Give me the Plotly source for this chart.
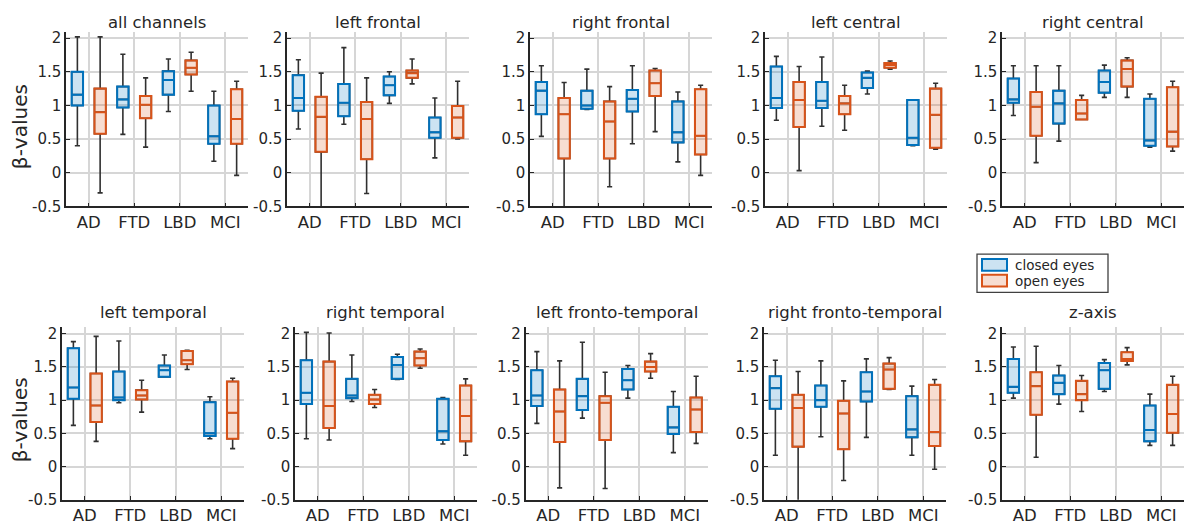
import plotly.graph_objects as go

panels = ["all channels", "left frontal", "right frontal", "left central", "right central",
          "left temporal", "right temporal", "left fronto-temporal", "right fronto-temporal", "z-axis"]
groups = ["AD", "FTD", "LBD", "MCI"]
series_names = ["closed eyes", "open eyes"]
ytick_vals = [-0.5, 0, 0.5, 1, 1.5, 2]
ytick_text = ["-0.5", "0", "0.5", "1", "1.5", "2"]

# closed eyes statistics (per panel: AD, FTD, LBD, MCI)
closed_lo = [[0.40, 0.57, 0.91, 0.17], [0.65, 0.72, 1.03, 0.22], [0.54, 0.94, 0.43, 0.16],
             [0.78, 0.69, 1.17, 0.40], [0.85, 0.47, 1.12, 0.38], [0.62, 0.96, 1.35, 0.42],
             [0.42, 0.98, 1.31, 0.34], [0.65, 0.73, 1.03, 0.21], [0.17, 0.45, 0.44, 0.17],
             [1.03, 0.94, 1.13, 0.32]]
closed_q1 = [[1.00, 0.97, 1.16, 0.43], [0.92, 0.84, 1.15, 0.52], [0.87, 0.95, 0.91, 0.45],
             [0.96, 0.96, 1.26, 0.41], [1.04, 0.73, 1.19, 0.40], [1.02, 1.00, 1.35, 0.46],
             [0.94, 1.03, 1.32, 0.40], [0.91, 0.85, 1.16, 0.49], [0.87, 0.90, 0.98, 0.44],
             [1.11, 1.09, 1.17, 0.38]]
closed_med = [[1.16, 1.09, 1.38, 0.54], [1.11, 1.04, 1.30, 0.60], [1.22, 1.00, 1.10, 0.60],
              [1.11, 1.07, 1.41, 0.52], [1.09, 1.03, 1.35, 0.48], [1.19, 1.04, 1.45, 0.50],
              [1.11, 1.07, 1.53, 0.53], [1.07, 1.06, 1.30, 0.59], [1.18, 1.00, 1.13, 0.56],
              [1.20, 1.26, 1.45, 0.55]]
closed_q3 = [[1.50, 1.28, 1.51, 1.00], [1.45, 1.32, 1.43, 0.82], [1.35, 1.22, 1.23, 1.06],
             [1.58, 1.35, 1.49, 1.08], [1.40, 1.22, 1.52, 1.10], [1.78, 1.43, 1.52, 0.97],
             [1.60, 1.32, 1.65, 1.02], [1.45, 1.32, 1.47, 0.90], [1.36, 1.22, 1.42, 1.06],
             [1.62, 1.37, 1.56, 0.92]]
closed_hi = [[2.02, 1.76, 1.69, 1.21], [1.68, 1.86, 1.50, 1.11], [1.59, 1.54, 1.59, 1.20],
             [1.73, 1.72, 1.51, 1.08], [1.59, 1.59, 1.60, 1.17], [1.88, 1.89, 1.68, 1.05],
             [2.02, 1.68, 1.69, 1.04], [1.73, 1.87, 1.52, 1.13], [1.60, 1.59, 1.62, 1.21],
             [1.80, 1.52, 1.61, 1.09]]

# open eyes statistics
open_lo = [[-0.30, 0.38, 1.21, -0.04], [-0.60, -0.31, 1.32, 0.50], [-0.60, -0.21, 0.61, -0.04],
           [0.03, 0.63, 1.54, 0.35], [0.15, 0.79, 1.12, 0.32], [0.38, 0.82, 1.46, 0.27],
           [0.40, 0.89, 1.48, 0.17], [-0.32, -0.33, 1.33, 0.35], [-0.60, -0.21, 1.16, -0.04],
           [0.14, 0.83, 1.53, 0.32]]
open_q1 = [[0.58, 0.81, 1.46, 0.43], [0.31, 0.20, 1.41, 0.52], [0.21, 0.21, 1.14, 0.27],
           [0.68, 0.87, 1.56, 0.37], [0.55, 0.79, 1.28, 0.39], [0.67, 1.01, 1.54, 0.42],
           [0.58, 0.94, 1.52, 0.38], [0.37, 0.40, 1.43, 0.52], [0.30, 0.26, 1.17, 0.31],
           [0.78, 1.00, 1.59, 0.51]]
open_med = [[0.90, 1.01, 1.56, 0.80], [0.83, 0.80, 1.48, 0.82], [0.87, 0.76, 1.33, 0.55],
            [1.08, 1.03, 1.60, 0.86], [0.98, 0.88, 1.54, 0.61], [0.92, 1.07, 1.60, 0.81],
            [0.91, 1.01, 1.63, 0.76], [0.83, 0.96, 1.50, 0.86], [0.88, 0.80, 1.46, 0.52],
            [1.21, 1.09, 1.62, 0.79]]
open_q3 = [[1.25, 1.14, 1.67, 1.24], [1.13, 1.05, 1.52, 0.99], [1.11, 1.06, 1.52, 1.24],
           [1.35, 1.14, 1.63, 1.25], [1.20, 1.08, 1.67, 1.27], [1.40, 1.15, 1.74, 1.28],
           [1.58, 1.08, 1.73, 1.22], [1.16, 1.06, 1.58, 1.04], [1.08, 0.99, 1.55, 1.23],
           [1.42, 1.29, 1.72, 1.23]]
open_hi = [[2.02, 1.41, 1.79, 1.36], [1.48, 1.41, 1.69, 1.36], [1.34, 1.28, 1.55, 1.30],
           [1.58, 1.30, 1.66, 1.33], [1.59, 1.15, 1.71, 1.36], [1.96, 1.30, 1.75, 1.33],
           [2.01, 1.16, 1.77, 1.32], [1.59, 1.42, 1.70, 1.36], [1.43, 1.29, 1.64, 1.31],
           [1.81, 1.37, 1.79, 1.36]]

W, H = 1184, 532
FONT = "DejaVu Sans"
TXT = "#262626"
BLUE, BLUE_F = "#0072BD", "rgba(0,114,189,0.2)"
ORANGE, ORANGE_F = "#D95319", "rgba(217,83,25,0.2)"

row_lefts = [[66, 287, 530, 765, 1002], [62, 295, 525.5, 764, 1002]]
panel_w = 182
row_ydom = [[(H - 208) / H, (H - 29.8) / H], [(H - 508.3) / H, (H - 331.5) / H]]
row_yrange = [[-0.5, 2.09], [-0.5, 2.1]]
title_y = [(H - 20) / H, (H - 317) / H]
ylabel_y = [(H - 127) / H, (H - 427) / H]

fig = go.Figure()
layout = dict(width=W, height=H, margin=dict(l=0, r=0, t=0, b=0),
              paper_bgcolor="white", plot_bgcolor="white", boxmode="overlay",
              font=dict(family=FONT, color=TXT), showlegend=False)
annotations = []
shapes = []

cats = [1, 2, 3, 4]
for p, name in enumerate(panels):
    r, c = divmod(p, 5)
    k = p + 1
    xa = "x" if k == 1 else f"x{k}"
    ya = "y" if k == 1 else f"y{k}"
    left = row_lefts[r][c]
    layout["xaxis" if k == 1 else f"xaxis{k}"] = dict(
        domain=[left / W, min((left + panel_w) / W, 1.0)], anchor=ya, range=[0.5, 4.5],
        tickvals=cats, ticktext=groups, showgrid=True, gridcolor="#d6d6d6", gridwidth=1.5,
        zeroline=False, showline=True, linecolor=TXT, linewidth=1.5, ticks="inside",
        ticklen=4, tickcolor=TXT, tickwidth=1.2, tickfont=dict(size=16.5, family=FONT, color=TXT),
        fixedrange=True)
    layout["yaxis" if k == 1 else f"yaxis{k}"] = dict(
        domain=row_ydom[r], anchor=xa, range=row_yrange[r], tickvals=ytick_vals,
        ticktext=ytick_text, showgrid=True, gridcolor="#d6d6d6", gridwidth=1.5,
        zeroline=False, showline=True, linecolor=TXT, linewidth=1.5, ticks="inside",
        ticklen=4, tickcolor=TXT, tickwidth=1.2, tickfont=dict(size=15, family=FONT, color=TXT),
        fixedrange=True)
    annotations.append(dict(text=name, x=(left + panel_w / 2) / W, y=title_y[r],
                            xref="paper", yref="paper", xanchor="center", yanchor="middle",
                            showarrow=False, font=dict(size=16.5, family=FONT, color=TXT)))

    for gname, lo, q1, med, q3, hi, off, lc, fc in [
        (series_names[0], closed_lo, closed_q1, closed_med, closed_q3, closed_hi, -0.25, BLUE, BLUE_F),
        (series_names[1], open_lo, open_q1, open_med, open_q3, open_hi, 0.25, ORANGE, ORANGE_F),
    ]:
        xs = [cc + off for cc in cats]
        # whiskers (dark)
        fig.add_trace(go.Box(x=xs, q1=q1[p], median=med[p], q3=q3[p],
                             lowerfence=lo[p], upperfence=hi[p], width=0.25,
                             whiskerwidth=0.45, boxpoints=False,
                             line=dict(color="#303030", width=1.6),
                             fillcolor="rgba(0,0,0,0)", xaxis=xa, yaxis=ya,
                             name=gname, hoverinfo="skip"))
        # coloured box
        fig.add_trace(go.Box(x=xs, q1=q1[p], median=med[p], q3=q3[p],
                             lowerfence=q1[p], upperfence=q3[p], width=0.25,
                             whiskerwidth=0, boxpoints=False,
                             line=dict(color=lc, width=2),
                             fillcolor=fc, xaxis=xa, yaxis=ya, name=gname))

for r in range(2):
    annotations.append(dict(text="β-values", x=20 / W, y=ylabel_y[r], xref="paper", yref="paper",
                            xanchor="center", yanchor="middle", textangle=-90, showarrow=False,
                            font=dict(size=20, family=FONT, color=TXT)))

# legend (drawn as a framed key in paper pixels)
def px(x):
    return x / W

def py(y):
    return (H - y) / H

shapes.append(dict(type="rect", xref="paper", yref="paper", x0=px(977), x1=px(1108),
                   y0=py(296), y1=py(257), line=dict(color="#404040", width=1.3),
                   fillcolor="white", layer="above"))
for i, (lc, fc) in enumerate([(BLUE, BLUE_F), (ORANGE, ORANGE_F)]):
    yc = 268 + i * 16
    shapes.append(dict(type="rect", xref="paper", yref="paper", x0=px(982), x1=px(1007),
                       y0=py(yc + 6), y1=py(yc - 6), line=dict(color=lc, width=2),
                       fillcolor=fc, layer="above"))
    annotations.append(dict(text=series_names[i], x=px(1014), y=py(yc), xref="paper",
                            yref="paper", xanchor="left", yanchor="middle", showarrow=False,
                            borderpad=0, font=dict(size=13.5, family=FONT, color=TXT)))

layout["annotations"] = annotations
layout["shapes"] = shapes
fig.update_layout(**layout)
fig.write_html("out.html")
